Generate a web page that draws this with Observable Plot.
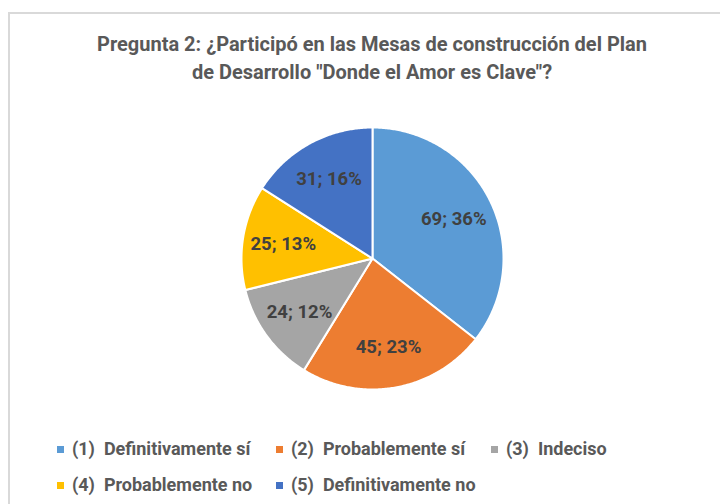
<!DOCTYPE html>
<html>
<head>
<meta charset="utf-8">
<script src="https://cdn.jsdelivr.net/npm/d3@7"></script>
<script src="https://cdn.jsdelivr.net/npm/@observablehq/plot@0.6"></script>
<style>
  html, body { margin: 0; padding: 0; background: #fff; }
  body { width: 720px; height: 504px; position: relative; overflow: hidden; font-family: Roboto, "Liberation Sans", sans-serif; }
  #frame { position: absolute; left: 8px; top: 12px; width: 740px; height: 520px; border: 2px solid #d9d9d9; box-sizing: border-box; }
  #title { position: absolute; left: 0; width: 744px; top: 30px; text-align: center; color: #595959; font-weight: bold; font-size: 20px; line-height: 28px; }
  #chart { position: absolute; left: 0; top: 108px; }
  #legend { position: absolute; left: 57px; top: 437px; color: #595959; font-weight: bold; font-size: 18px; }
  .row { height: 36px; line-height: 24px; white-space: pre; }
  .item { display: inline-block; vertical-align: top; white-space: pre; }
  .sw { display: inline-block; width: 7px; height: 7px; margin-right: 8px; vertical-align: 2px; }
</style>
</head>
<body>
<div id="frame"></div>
<div id="title">Pregunta 2: ¿Participó en las Mesas de construcción del Plan<br>de Desarrollo "Donde el Amor es Clave"?</div>
<div id="chart"></div>
<div id="legend"></div>
<script>
const categories = ["(1)  Definitivamente sí", "(2)  Probablemente sí", "(3)  Indeciso", "(4)  Probablemente no", "(5)  Definitivamente no"];
const values = [69, 45, 24, 25, 31];
const colors = ["#5B9BD5", "#ED7D31", "#A5A5A5", "#FFC000", "#4472C4"];

const total = d3.sum(values);
const arcs = d3.pie().sort(null).value(d => d)(values);

// slice outlines in unit-circle coordinates (angle 0 at top, clockwise)
const pts = [];
arcs.forEach((a, i) => {
  pts.push({cat: categories[i], x: 0, y: 0});
  const n = Math.max(2, Math.ceil((a.endAngle - a.startAngle) / 0.01));
  for (let k = 0; k <= n; k++) {
    const t = a.startAngle + (a.endAngle - a.startAngle) * k / n;
    pts.push({cat: categories[i], x: Math.sin(t), y: Math.cos(t)});
  }
  pts.push({cat: categories[i], x: 0, y: 0});
});

const labels = arcs.map((a, i) => {
  const m = (a.startAngle + a.endAngle) / 2;
  const r = 0.69;
  return {x: r * Math.sin(m), y: r * Math.cos(m), text: `${values[i]}; ${Math.round(values[i] / total * 100)}%`};
});

const R = 131, cx = 372, cy = 150;
const plot = Plot.plot({
  width: 720,
  height: 300,
  margin: 0,
  x: {domain: [-1, 1], range: [cx - R, cx + R], axis: null},
  y: {domain: [-1, 1], range: [cy + R, cy - R], axis: null},
  color: {domain: categories, range: colors},
  marks: [
    Plot.line(pts, {x: "x", y: "y", z: "cat", fill: "cat", stroke: "white", strokeWidth: 2, strokeLinejoin: "round"}),
    Plot.text(labels, {x: "x", y: "y", text: "text", fill: "#404040", fontWeight: "bold", fontSize: 18.5, fontFamily: "Roboto, 'Liberation Sans', sans-serif"})
  ]
});
document.getElementById("chart").appendChild(plot);

const legend = document.getElementById("legend");
const rows = [[0, 1, 2], [3, 4]];
const widths = [219, 215, 200];
rows.forEach(r => {
  const row = document.createElement("div");
  row.className = "row";
  r.forEach((i, j) => {
    const it = document.createElement("span");
    it.className = "item";
    it.style.width = widths[j] + "px";
    it.innerHTML = `<span class="sw" style="background:${colors[i]}"></span>`;
    it.appendChild(document.createTextNode(categories[i]));
    row.appendChild(it);
  });
  legend.appendChild(row);
});
</script>
</body>
</html>
